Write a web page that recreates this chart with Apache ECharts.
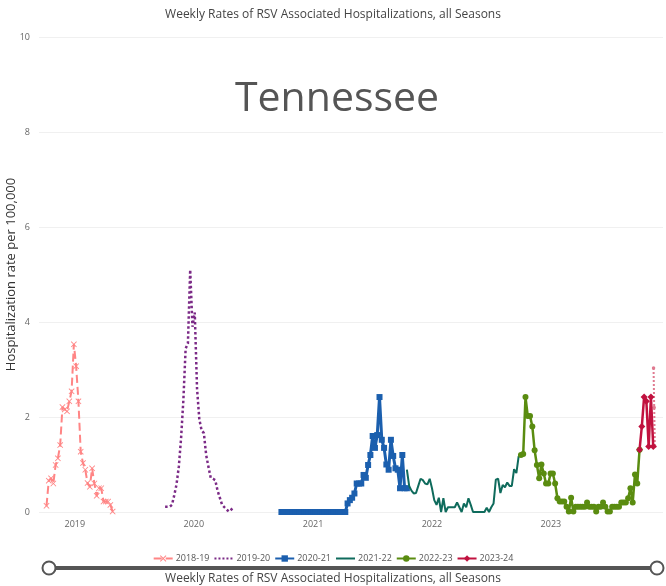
<!DOCTYPE html>
<html>
<head>
<meta charset="utf-8">
<script src="https://cdn.jsdelivr.net/npm/echarts@6/dist/echarts.min.js"></script>
<style>
html,body{margin:0;padding:0;background:#fff;}
#chart{width:666px;height:586px;}
</style>
</head>
<body>
<div id="chart"></div>
<script>
// ---- data ----
const seasons = ['2018-19','2019-20','2020-21','2021-22','2022-23','2023-24'];
const seasonStart = ['2018-10-06','2019-10-05','2020-09-26','2021-10-16','2022-10-01','2023-09-30'];
const rates2018_19 = [0.13,0.66,0.71,0.60,0.99,1.13,1.41,2.21,2.16,2.12,2.33,2.54,3.53,3.07,2.33,1.27,1.03,0.89,0.61,0.53,0.92,0.60,0.34,0.50,0.50,0.22,0.22,0.22,0.15,0.01];
const rates2019_20 = [0.11,0.11,0.11,0.15,0.35,0.58,0.95,1.55,2.35,3.44,3.55,5.10,3.90,4.20,2.60,1.95,1.72,1.66,1.20,0.95,0.72,0.70,0.67,0.45,0.30,0.15,0.10,0.05,0.01,0.05,0.11];
const rates2020_21 = [0,0,0,0,0,0,0,0,0,0,0,0,0,0,0,0,0,0,0,0,0,0,0,0,0,0,0,0,0,
  0.18,0.25,0.30,0.39,0.60,0.60,0.60,0.78,0.72,0.99,1.20,1.60,1.35,1.62,2.42,1.52,1.35,1.00,0.89,1.52,1.18,0.92,0.89,0.50,1.20,0.50,0.50];
const rates2021_22 = [0.89,0.55,0.45,0.39,0.40,0.55,0.70,0.67,0.60,0.58,0.70,0.50,0.25,0.15,0.30,0.00,0.29,0.00,0.10,0.10,0.10,0.10,0.20,0.10,0.00,0.18,0.10,0.29,0.15,0.00,0,0,0,0,0,0.09,0,0.10,0.18,0.68,0.70,0.40,0.57,0.52,0.62,0.55,0.55,0.90,0.82,1.17,1.20];
const rates2022_23 = [1.20,1.22,2.42,2.02,2.02,1.80,1.30,0.99,0.71,1.00,0.81,0.60,0.60,0.81,0.81,0.60,0.29,0.22,0.22,0.22,0.11,0.01,0.30,0.01,0.11,0.11,0.11,0.11,0.11,0.20,0.11,0.11,0.11,0.01,0.11,0.11,0.20,0.11,0.01,0.01,0.11,0.11,0.11,0.11,0.20,0.20,0.20,0.29,0.50,0.20,0.79,0.60,1.31];
const rates2023_24 = [1.31,1.80,2.42,2.33,1.38,2.42,1.38];
const prelimDates = ['2023-11-12','2023-11-14','2023-11-16'];
const prelimRates = [3.03,2.20,1.38];
const yTicks = [0,2,4,6,8,10];

const seasonRates = [rates2018_19,rates2019_20,rates2020_21,rates2021_22,rates2022_23,rates2023_24];

function weekly(start, vals){
  const t0 = Date.parse(start + 'T00:00:00Z');
  return vals.map((v,i)=>[t0 + i*7*86400000, v]);
}

const FONT = '"Open Sans", "Noto Sans", sans-serif';
const xShape = 'path://M1,0 L5,4 L9,0 L10,1 L6,5 L10,9 L9,10 L5,6 L1,10 L0,9 L4,5 L0,1 Z';

const styles = [
  {color:'#ff8585', type:'dashed', width:2, symbol:xShape, symbolSize:6},
  {color:'#7b2a86', type:'dotted', width:2.5, symbol:'none', symbolSize:0},
  {color:'#1b5fae', type:'solid', width:3, symbol:'rect', symbolSize:6},
  {color:'#0f6b5c', type:'solid', width:2, symbol:'none', symbolSize:0},
  {color:'#5a8c10', type:'solid', width:2.5, symbol:'circle', symbolSize:6},
  {color:'#c1123f', type:'solid', width:2.5, symbol:'diamond', symbolSize:7}
];

const series = seasons.map((name,k)=>({
  name: name,
  type: 'line',
  data: weekly(seasonStart[k], seasonRates[k]),
  showSymbol: styles[k].symbol !== 'none',
  symbol: styles[k].symbol,
  symbolSize: styles[k].symbolSize,
  lineStyle: {color: styles[k].color, width: styles[k].width, type: styles[k].type},
  itemStyle: {color: styles[k].color},
  animation: false,
  z: 2 + k
}));
series.push({
  name: 'prelim',
  type: 'line',
  data: prelimDates.map((d,i)=>[Date.parse(d+'T00:00:00Z'), prelimRates[i]]),
  symbol: 'circle', symbolSize: 3.5,
  lineStyle: {color:'#e07a90', width:2, type:'dotted'},
  itemStyle: {color:'#e07a90'},
  animation:false
});

const legendData = seasons.map((name,k)=> styles[k].symbol === 'none'
  ? {name: name, itemStyle: {opacity: 0}}
  : {name: name});

const chart = echarts.init(document.getElementById('chart'), null, {renderer:'canvas'});
chart.setOption({
  animation: false,
  backgroundColor: '#fff',
  textStyle: {fontFamily: FONT},
  title: [
    {text:'Weekly Rates of RSV Associated Hospitalizations, all Seasons', left:'center', top:4,
     textStyle:{fontSize:12, fontWeight:'normal', color:'#444', fontFamily:FONT}},
    {text:'Tennessee', left:230, top:74,
     textStyle:{fontSize:41, fontWeight:'normal', color:'#555', fontFamily:FONT}},
    {text:'Weekly Rates of RSV Associated Hospitalizations, all Seasons', left:'center', top:568,
     textStyle:{fontSize:12, fontWeight:'normal', color:'#444', fontFamily:FONT}}
  ],
  legend: {
    data: legendData,
    bottom: 18,
    left: 'center',
    itemWidth: 19, itemHeight: 8, itemGap: 4,
    textStyle: {fontSize: 9, color:'#555', fontFamily:FONT, padding:[0,0,0,-2]}
  },
  grid: {left: 39, right: 3, top: 37, bottom: 74, outerBoundsMode: 'none', containLabel: false},
  xAxis: {
    type: 'time',
    min: Date.parse('2018-09-13T00:00:00Z'),
    max: Date.parse('2023-12-11T00:00:00Z'),
    axisLine: {show:false},
    axisTick: {show:false},
    splitLine: {show:false},
    axisLabel: {
      fontSize: 9, color:'#666', margin: 8, fontFamily: FONT,
      formatter: function(v){ const d = new Date(v); return (d.getUTCMonth()===0 && d.getUTCDate()===1) ? String(d.getUTCFullYear()) : ''; }
    }
  },
  yAxis: {
    type: 'value',
    min: yTicks[0], max: yTicks[yTicks.length-1], interval: 2,
    name: 'Hospitalization rate per 100,000',
    nameLocation: 'middle', nameGap: 21, nameMoveOverlap: false,
    nameTextStyle: {fontSize: 13, color:'#333', fontFamily: FONT},
    axisLine: {show:false}, axisTick: {show:false},
    axisLabel: {fontSize: 9, color:'#666', margin: 9, fontFamily: FONT},
    splitLine: {lineStyle: {color:'#f0f0f0', width:1}}
  },
  dataZoom: [{
    type: 'slider', xAxisIndex: 0, start: 0, end: 100, filterMode: 'none',
    left: 46, right: 10, bottom: 16, height: 4,
    showDataShadow: false, showDetail: false, brushSelect: false,
    backgroundColor: '#555', borderColor: 'transparent', fillerColor: '#555',
    handleIcon: 'circle', handleSize: 13,
    handleStyle: {color:'#fff', borderColor:'#555', borderWidth: 2},
    moveHandleSize: 0,
    emphasis: {handleStyle:{borderColor:'#555'}}
  }],
  series: series
});
</script>
</body>
</html>
